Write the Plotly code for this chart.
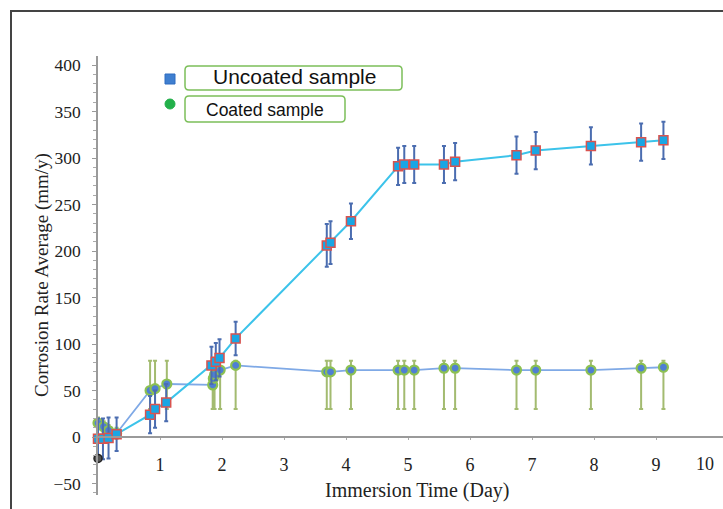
import plotly.graph_objects as go

# ---------------- data ----------------
uncoated_x = [0.0, 0.08, 0.17, 0.30, 0.84, 0.92, 1.10, 1.83, 1.90, 1.96, 2.22,
              3.69, 3.75, 4.08, 4.84, 4.94, 5.10, 5.58, 5.76, 6.75, 7.06, 7.95, 8.76, 9.12]
uncoated_y = [-2, -2, -1, 3, 24, 30, 37, 77, 81, 85, 106,
              206, 209, 232, 291, 293, 293, 293, 296, 303, 308, 313, 317, 319]
uncoated_err = [22, 22, 22, 18, 20, 20, 20, 20, 20, 20, 18,
                23, 23, 19, 20, 20, 20, 20, 20, 20, 20, 20, 20, 20]

coated_x = [0.0, 0.09, 0.17, 0.30, 0.84, 0.92, 1.11, 1.85, 1.86, 1.88, 1.97, 2.22,
            3.69, 3.75, 4.08, 4.84, 4.94, 5.10, 5.58, 5.76, 6.75, 7.06, 7.95, 8.76, 9.12]
coated_y = [15, 11, 7, 4, 50, 52, 57, 56, 63, 67, 72, 77,
            70, 70, 72, 72, 72, 72, 74, 74, 72, 72, 72, 74, 75]
coated_err_top = [82] * len(coated_x)
coated_err_bottom = [30] * len(coated_x)
coated_err_top[:4] = [y + 6 for y in coated_y[:4]]
coated_err_bottom[:4] = [y - 6 for y in coated_y[:4]]

stray_x = [0.0]
stray_y = [-23]

x_ticks = [1, 2, 3, 4, 5, 6, 7, 8, 9]
x_last_tick = "10"
y_ticks = [-50, 0, 50, 100, 150, 200, 250, 300, 350, 400]

legend_labels = ["Uncoated sample", "Coated sample"]
x_title = "Immersion Time (Day)"
y_title = "Corrosion Rate Average (mm/y)"

# ---------------- geometry helpers ----------------
W, H = 723, 509
L, R, T, B = 98, 723, 56, 495


def px(xp):
    return (xp - L) / (R - L)


def py(yp):
    return (B - yp) / (B - T)


def rounded_rect(x0, y0, x1, y1, r):
    pts = [
        f"M {px(x0 + r)},{py(y0)}",
        f"L {px(x1 - r)},{py(y0)}",
        f"Q {px(x1)},{py(y0)} {px(x1)},{py(y0 + r)}",
        f"L {px(x1)},{py(y1 - r)}",
        f"Q {px(x1)},{py(y1)} {px(x1 - r)},{py(y1)}",
        f"L {px(x0 + r)},{py(y1)}",
        f"Q {px(x0)},{py(y1)} {px(x0)},{py(y1 - r)}",
        f"L {px(x0)},{py(y0 + r)}",
        f"Q {px(x0)},{py(y0)} {px(x0 + r)},{py(y0)}",
        "Z",
    ]
    return " ".join(pts)


fig = go.Figure()

coated_top = [t - y for t, y in zip(coated_err_top, coated_y)]
coated_bot = [y - b for b, y in zip(coated_err_bottom, coated_y)]

fig.add_trace(go.Scatter(
    x=coated_x, y=coated_y, mode="lines+markers", name=legend_labels[1],
    line=dict(color="#7fa9e6", width=1.8),
    marker=dict(symbol="circle", size=9, color="#4f7fd3",
                line=dict(color="#8cc152", width=2.2)),
    error_y=dict(type="data", symmetric=False, array=coated_top,
                 arrayminus=coated_bot, color="#a3bb70", thickness=2, width=2),
    cliponaxis=False,
))

fig.add_trace(go.Scatter(
    x=uncoated_x, y=uncoated_y, mode="lines+markers", name=legend_labels[0],
    line=dict(color="#3cc3ea", width=2),
    marker=dict(symbol="square", size=9, color="#19a6e4",
                line=dict(color="#d9534f", width=1.5)),
    error_y=dict(type="data", array=uncoated_err, color="#4b6db0",
                 thickness=2, width=2),
    cliponaxis=False,
))

fig.add_trace(go.Scatter(
    x=stray_x, y=stray_y, mode="markers", showlegend=False,
    marker=dict(symbol="circle", size=8, color="#555555",
                line=dict(color="#222222", width=1.5)),
    cliponaxis=False,
))

serif = "Liberation Serif, Times New Roman, serif"

fig.update_layout(
    width=W, height=H,
    margin=dict(l=L, r=W - R, t=T, b=H - B),
    paper_bgcolor="white", plot_bgcolor="white",
    showlegend=False,
    xaxis=dict(
        range=[0, (R - L) / 62.0],
        anchor="free", position=py(437),
        showline=True, linecolor="#9a9a9a", linewidth=1.5,
        showgrid=False, zeroline=False,
        tickvals=x_ticks, ticks="outside", ticklen=2, tickcolor="#aaaaaa",
        ticklabelstandoff=10,
        tickfont=dict(family=serif, size=18, color="#222222"),
    ),
    yaxis=dict(
        range=[-(B - 437) / 0.93, (437 - T) / 0.93],
        showline=True, linecolor="#9a9a9a", linewidth=1.5,
        showgrid=False, zeroline=False,
        tickvals=y_ticks, ticks="outside", ticklen=4, tickcolor="#999999",
        minor=dict(dtick=10, ticks="outside", ticklen=3, tickcolor="#aaaaaa"),
        ticklabelstandoff=8,
        tickfont=dict(family=serif, size=17.5, color="#222222"),
    ),
)

shapes = [
    dict(type="line", xref="paper", yref="paper", x0=px(11), y0=py(509), x1=px(11), y1=py(11),
         line=dict(color="#444444", width=2)),
    dict(type="line", xref="paper", yref="paper", x0=px(10), y0=py(11), x1=px(723), y1=py(11),
         line=dict(color="#444444", width=2)),
    dict(type="path", xref="paper", yref="paper", path=rounded_rect(185, 66, 402, 90, 4),
         line=dict(color="#7cbf5a", width=1.5), fillcolor="white"),
    dict(type="path", xref="paper", yref="paper", path=rounded_rect(185, 96, 345, 122, 4),
         line=dict(color="#7cbf5a", width=1.5), fillcolor="white"),
    dict(type="rect", xref="paper", yref="paper", x0=px(165), y0=py(84), x1=px(175), y1=py(74),
         fillcolor="#3f7fd0", line=dict(color="#2f6cc0", width=1)),
    dict(type="circle", xref="paper", yref="paper", x0=px(165), y0=py(109), x1=px(175), y1=py(99),
         fillcolor="#22b04a", line=dict(color="#22b04a", width=1)),
]
fig.update_layout(shapes=shapes)

annotations = [
    dict(text=legend_labels[0], xref="paper", yref="paper", x=px(294), y=py(77),
         xanchor="center", yanchor="middle", showarrow=False,
         font=dict(family="Liberation Sans, Arial, sans-serif", size=21, color="#111111")),
    dict(text=legend_labels[1], xref="paper", yref="paper", x=px(265), y=py(110),
         xanchor="center", yanchor="middle", showarrow=False,
         font=dict(family="Liberation Sans, Arial, sans-serif", size=17.5, color="#111111")),
    dict(text=x_last_tick, xref="paper", yref="paper", x=px(705), y=py(464),
         xanchor="center", yanchor="middle", showarrow=False,
         font=dict(family=serif, size=18, color="#222222")),
    dict(text=x_title, xref="paper", yref="paper", x=px(417), y=py(490),
         xanchor="center", yanchor="middle", showarrow=False,
         font=dict(family=serif, size=20, color="#222222")),
    dict(text=y_title, xref="paper", yref="paper", x=px(42), y=py(275),
         xanchor="center", yanchor="middle", showarrow=False, textangle=-90,
         font=dict(family=serif, size=19, color="#222222")),
]
fig.update_layout(annotations=annotations)

fig.write_html("out.html")
